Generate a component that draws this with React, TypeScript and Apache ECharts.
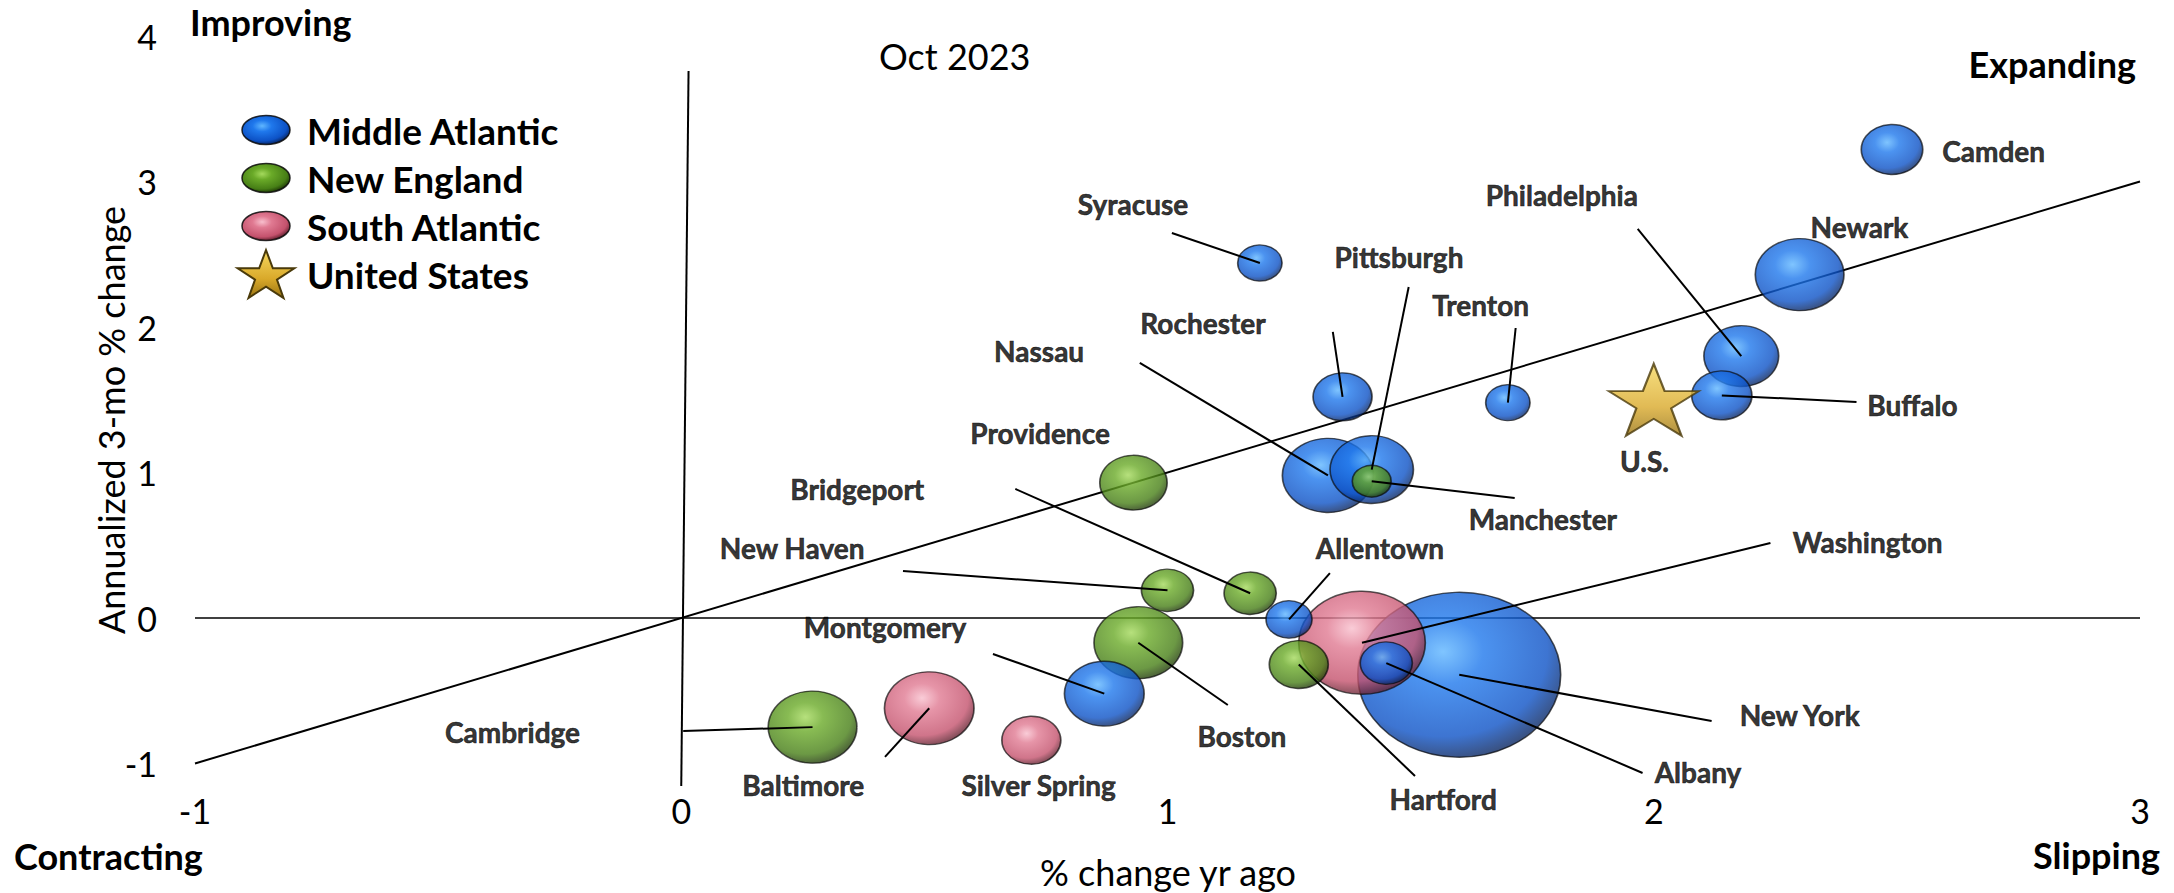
import React, { useEffect, useRef } from "react";
import * as echarts from "echarts";

// ---------- data ----------
const cities = [
  "Camden", "Newark", "Philadelphia", "Buffalo", "Trenton", "Syracuse", "Rochester",
  "Nassau", "Pittsburgh", "Manchester", "Providence", "New Haven", "Bridgeport",
  "Allentown", "Hartford", "Washington", "Albany", "New York", "Boston",
  "Montgomery", "Silver Spring", "Baltimore", "Cambridge",
];
const regionOf = [
  "MA", "MA", "MA", "MA", "MA", "MA", "MA",
  "MA", "MA", "NE", "NE", "NE", "NE",
  "MA", "NE", "SA", "MA", "MA", "NE",
  "MA", "SA", "SA", "NE",
];
// % change yr ago
const yrAgo = [2.49, 2.30, 2.18, 2.14, 1.70, 1.19, 1.36, 1.33, 1.42, 1.42, 0.93, 1.00, 1.17, 1.25, 1.27, 1.40, 1.45, 1.60, 0.94, 0.87, 0.72, 0.51, 0.27];
// annualized 3-mo % change
const ann3mo = [3.22, 2.36, 1.80, 1.53, 1.48, 2.44, 1.52, 0.98, 1.02, 0.94, 0.93, 0.19, 0.17, -0.01, -0.32, -0.17, -0.31, -0.39, -0.17, -0.52, -0.84, -0.62, -0.75];
// bubble size (relative employment)
const bubbleValue = [25, 52, 37, 24, 13, 13, 23, 55, 46, 10, 30, 18, 18, 14, 23, 106, 18, 272, 52, 42, 23, 53, 52];
// label anchor positions (data units)
const labelX = [2.699, 2.423, 1.811, 2.532, 1.644, 0.929, 1.073, 0.736, 1.476, 1.772, 0.738, 0.228, 0.362, 1.437, 1.567, 2.440, 2.091, 2.300, 1.153, 0.419, 0.735, 0.251, -0.347];
const labelY = [3.210, 2.687, 2.907, 1.464, 2.151, 2.845, 2.027, 1.835, 2.481, 0.680, 1.271, 0.481, 0.887, 0.481, -1.244, 0.522, -1.058, -0.667, -0.811, -0.062, -1.148, -1.148, -0.784];
// leader-line start points (data units), null = no leader
const leaderX = [null, null, 1.967, 2.417, 1.716, 1.009, 1.340, 0.943, 1.496, 1.714, null, 0.456, 0.687, 1.334, 1.509, 2.240, 1.977, 2.119, 1.124, 0.641, null, 0.419, 0.004];
const leaderY = [null, null, 2.674, 1.485, 1.993, 2.646, 1.966, 1.753, 2.275, 0.825, null, 0.323, 0.887, 0.309, -1.086, 0.515, -1.065, -0.708, -0.598, -0.247, null, -0.955, -0.777];

const usPoint = { name: "U.S.", x: 2.0, y: 1.5, labelX: 1.981, labelY: 1.079 };

const xTicks = { min: -1, max: 3, interval: 1 };
const yTicks = { min: -1, max: 4, interval: 1 };

const legendItems = ["Middle Atlantic", "New England", "South Atlantic", "United States"];
const legendRegions = ["MA", "NE", "SA", "US"];

// ---------- styles ----------
const FONT = "Lato";
const sphere = (c0: string, c1: string, c2: string, c3: string) => ({
  type: "radial",
  x: 0.42,
  y: 0.36,
  r: 0.66,
  colorStops: [
    { offset: 0, color: c0 },
    { offset: 0.3, color: c1 },
    { offset: 0.78, color: c2 },
    { offset: 1, color: c3 },
  ],
});
const regionColor: Record<string, any> = {
  MA: sphere("#5fb6ff", "#1f78ec", "#0d52c6", "#08245e"),
  NE: sphere("#a4d95c", "#6aaa28", "#477f16", "#1e3806"),
  SA: sphere("#f8bfcd", "#e07a92", "#c4526d", "#5e1e2c"),
};
const starColor = {
  type: "linear", x: 0, y: 0, x2: 0, y2: 1,
  colorStops: [
    { offset: 0, color: "#f6d860" },
    { offset: 0.6, color: "#d9a92a" },
    { offset: 1, color: "#9a7412" },
  ],
};
const STAR_PTS = [
  [50, 0], [61.8, 35.1], [98.9, 35.1], [68.9, 57.1], [80.2, 92.4],
  [50, 70.6], [19.8, 92.4], [31.1, 57.1], [1.1, 35.1], [38.2, 35.1],
];
const STAR = "path://M" + STAR_PTS.map((p) => p.join(",")).join(" L") + " Z";
const ASPECT = 1.23;

export default function App() {
  const ref = useRef<HTMLDivElement>(null);

  useEffect(() => {
    if (!ref.current) return;
    const chart = echarts.init(ref.current, undefined, { renderer: "svg" });

    const idx = cities.map((_, i) => i).sort((a, b) => bubbleValue[b] - bubbleValue[a]);
    const bubbleData = idx.map((i) => ({
      name: cities[i],
      value: [yrAgo[i], ann3mo[i], bubbleValue[i]],
      itemStyle: { color: regionColor[regionOf[i]] },
    }));

    const labelData = cities.map((c, i) => ({ name: c, value: [labelX[i], labelY[i]] }));
    labelData.push({ name: usPoint.name, value: [usPoint.labelX, usPoint.labelY] });

    const leaderData = cities
      .map((c, i) =>
        leaderX[i] === null
          ? null
          : { coords: [[leaderX[i] as number, leaderY[i] as number], [yrAgo[i], ann3mo[i]]] }
      )
      .filter(Boolean);

    // legend drawn as graphics
    const LEG_X = 266;
    const LEG_Y0 = 130;
    const LEG_DY = 48;
    const legendGraphics: any[] = [];
    legendItems.forEach((name, k) => {
      const cy = LEG_Y0 + LEG_DY * k;
      const r = legendRegions[k];
      if (r === "US") {
        const w = 58, h = 48;
        legendGraphics.push({
          type: "polygon",
          shape: { points: STAR_PTS.map(([px, py]) => [LEG_X - w / 2 + (px / 100) * w, cy - h / 2 + (py / 92.4) * h]) },
          style: { fill: starColor, stroke: "#4a3a0a", lineWidth: 2 },
        });
      } else {
        legendGraphics.push({
          type: "ellipse",
          shape: { cx: LEG_X, cy, rx: 24, ry: 14.5 },
          style: { fill: regionColor[r], stroke: "rgba(10,10,10,0.85)", lineWidth: 1.5 },
        });
      }
      legendGraphics.push({
        type: "text",
        x: 307,
        y: cy,
        style: { text: name, fill: "#000", font: `bold 37px ${FONT}`, verticalAlign: "middle" },
      });
    });

    const option: any = {
      animation: false,
      backgroundColor: "#fff",
      grid: { left: 195, right: 34, top: 36, bottom: 129.5, containLabel: false },
      xAxis: {
        type: "value",
        min: xTicks.min,
        max: xTicks.max,
        interval: xTicks.interval,
        axisLine: { show: false },
        axisTick: { show: false },
        splitLine: { show: false },
        axisLabel: { fontFamily: FONT, fontSize: 34, color: "#000", margin: 30 },
      },
      yAxis: {
        type: "value",
        min: yTicks.min,
        max: yTicks.max,
        interval: yTicks.interval,
        axisLine: { show: false },
        axisTick: { show: false },
        splitLine: { show: false },
        axisLabel: { fontFamily: FONT, fontSize: 34, color: "#000", margin: 38 },
      },
      series: [
        {
          type: "lines",
          name: "ref",
          coordinateSystem: "cartesian2d",
          z: 1,
          clip: false,
          silent: true,
          lineStyle: { color: "#000", width: 2, opacity: 1 },
          data: [
            { coords: [[-1, -1], [3, 3]] },
            { coords: [[-1, 0], [3, 0]], lineStyle: { width: 1.5 } },
            { coords: [[0, -1.155], [0.015, 3.76]] },
          ],
        },
        {
          type: "scatter",
          name: "bubbles",
          z: 3,
          clip: false,
          data: bubbleData,
          symbolSize: (v: number[]) => {
            const d = 10 * Math.sqrt(v[2]);
            return [d * ASPECT, d];
          },
          itemStyle: { borderColor: "rgba(10,10,10,0.85)", borderWidth: 1.5 },
        },
        {
          type: "scatter",
          name: "United States",
          z: 3,
          symbol: STAR,
          symbolSize: [90, 72],
          data: [[usPoint.x, usPoint.y]],
          itemStyle: { color: starColor, borderColor: "#4a3a0a", borderWidth: 2 },
        },
        {
          type: "lines",
          name: "leaders",
          coordinateSystem: "cartesian2d",
          z: 4,
          clip: false,
          silent: true,
          lineStyle: { color: "#000", width: 2, opacity: 1 },
          data: leaderData,
        },
        {
          type: "scatter",
          name: "labels",
          z: 5,
          clip: false,
          silent: true,
          symbolSize: 1,
          itemStyle: { color: "rgba(0,0,0,0)" },
          data: labelData,
          label: {
            show: true,
            position: "inside",
            formatter: (p: any) => p.name,
            fontFamily: FONT,
            fontWeight: "bold",
            color: "#000",
            textBorderColor: "#000",
            textBorderWidth: 0.6,
            fontSize: 28,
          },
        },
      ],
      graphic: [
        ...legendGraphics,
        { type: "text", left: 190, top: 4, style: { text: "Improving", fill: "#000", font: `bold 36px ${FONT}` } },
        { type: "text", right: 2174 - 2136, top: 46, style: { text: "Expanding", fill: "#000", font: `bold 36px ${FONT}` } },
        { type: "text", left: 14, top: 838, style: { text: "Contracting", fill: "#000", font: `bold 36px ${FONT}` } },
        { type: "text", right: 2174 - 2160, top: 837, style: { text: "Slipping", fill: "#000", font: `bold 36px ${FONT}` } },
        { type: "text", left: 879, top: 38, style: { text: "Oct 2023", fill: "#000", font: `36px ${FONT}` } },
        { type: "text", x: 1168, y: 872, style: { text: "% change yr ago", fill: "#000", font: `36px ${FONT}`, align: "center", verticalAlign: "middle" } },
        { type: "text", x: 111, y: 420, rotation: Math.PI / 2, style: { text: "Annualized 3-mo % change", fill: "#000", font: `36px ${FONT}`, align: "center", verticalAlign: "middle" } },
      ],
    };

    chart.setOption(option);
    return () => chart.dispose();
  }, []);

  return (
    <div
      ref={ref}
      style={{ position: "fixed", left: 0, top: 0, width: 2174, height: 893, background: "#fff" }}
    />
  );
}
